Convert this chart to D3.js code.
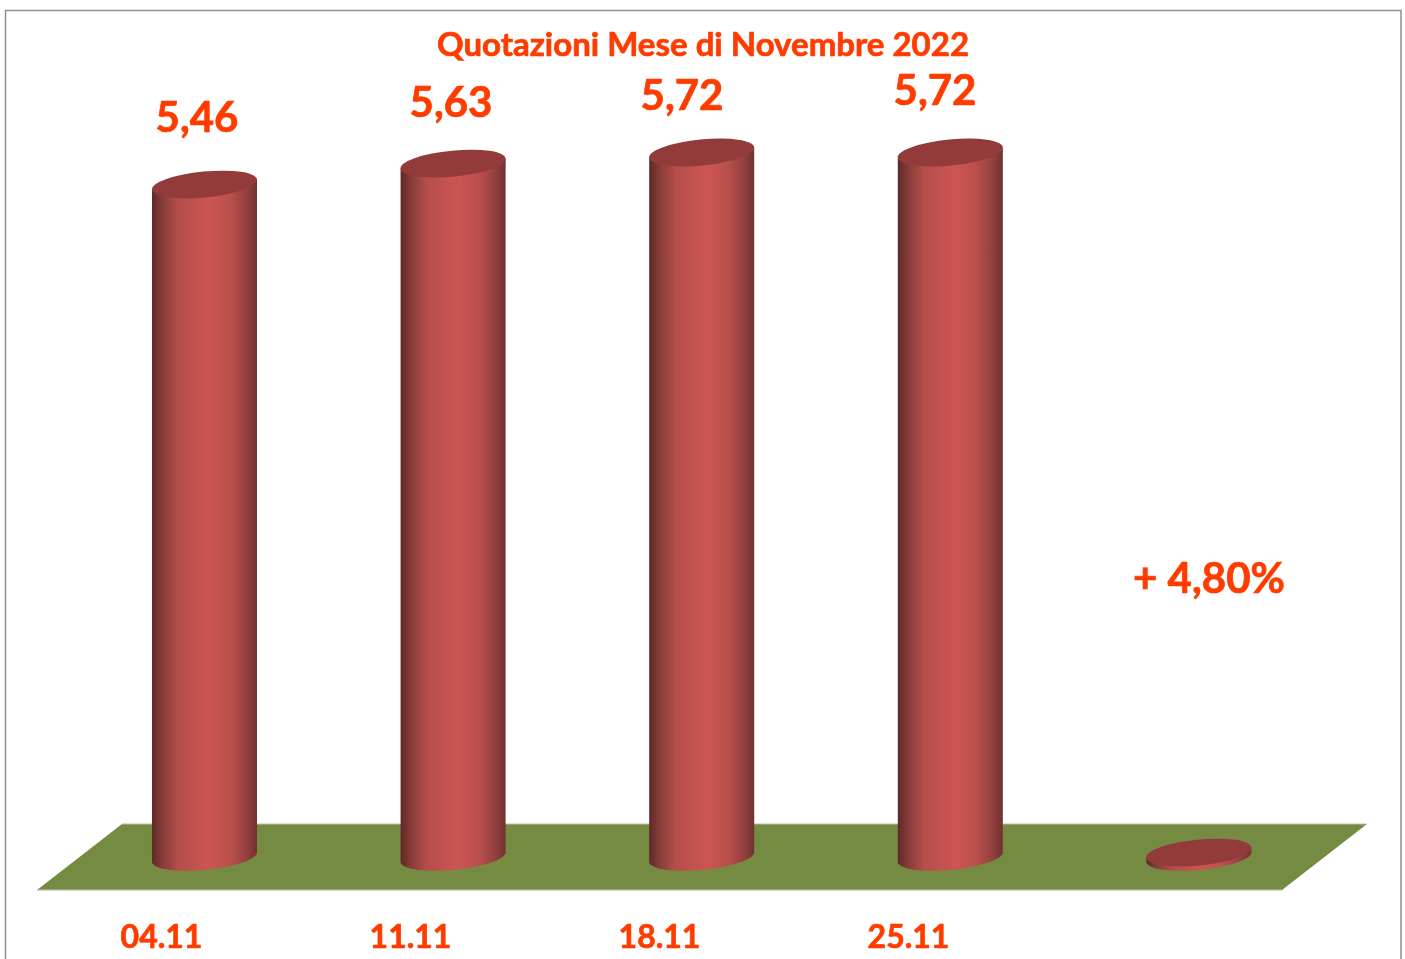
<!DOCTYPE html>
<html>
<head>
<meta charset="utf-8">
<script src="https://cdn.jsdelivr.net/npm/d3@7"></script>
<style>
  html, body { margin: 0; padding: 0; background: #fff; overflow: hidden; }
  svg { filter: blur(0.5px); }
  text { font-family: Lato, "Open Sans", sans-serif; font-weight: 700; fill: #ff3c00; stroke: #ff3c00; stroke-width: 0.7px; }
</style>
</head>
<body>
<div id="chart"></div>
<script>
// chart values
const dates = ["04.11", "11.11", "18.11", "25.11", ""]
const prices = [5.46, 5.63, 5.72, 5.72, 0.04]
const priceLabels = ["5,46", "5,63", "5,72", "5,72"]
const chartTitle = "Quotazioni Mese di Novembre 2022"
const changeLabel = "+ 4,80%"

// layout
const w = 1405, h = 959
const baseY = 857.5          // centre of the cylinder feet
const rx = 52.8, ry = 13, tilt = -5.5
const dyEdge = 4.8           // how far the ellipse's left/right ends sit off its centre
const floorBack = 824, floorFront = 890, floorSkew = 85
// hand placed labels, they don't follow the bars in the original
const labelX = [197, 451, 682, 935]
const labelY = [132, 117, 110, 105]

const svg = d3.select("#chart").append("svg")
    .attr("width", w)
    .attr("height", h)
    .style("display", "block")

// frame
svg.append("path")
    .attr("d", `M5.5,${h + 5} V10.5 H1401 V${h + 5}`)
    .attr("fill", "none")
    .attr("stroke", "#8f8f8f")
    .attr("stroke-width", 1.5)

const grad = svg.append("defs").append("linearGradient")
    .attr("id", "cyl")
    .attr("x1", 0).attr("x2", 1).attr("y1", 0).attr("y2", 0)
grad.selectAll("stop")
    .data([[0, "#5e2928"], [0.1, "#863c3a"], [0.25, "#b44e4a"], [0.55, "#cc5553"], [0.75, "#b94f4c"], [0.9, "#934040"], [1, "#703130"]])
    .enter().append("stop")
    .attr("offset", d => d[0])
    .attr("stop-color", d => d[1])

const x = d3.scaleBand()
    .domain(dates)
    .range([80.2, 1323.2])
    .paddingInner(0.5775)
    .paddingOuter(0.28875)

// same categories along the front edge of the floor, this carries the tick labels
const xFront = d3.scaleBand()
    .domain(dates)
    .range([37, 1282])

const y = d3.scaleLinear()
    .domain([0, 5.72])
    .range([baseY, 152.5])

// floor
const floorPts = [
    [xFront.range()[0], floorFront],
    [xFront.range()[1], floorFront],
    [xFront.range()[1] + floorSkew, floorBack],
    [xFront.range()[0] + floorSkew, floorBack]
]
svg.append("path")
    .attr("d", d3.line()(floorPts) + "Z")
    .attr("fill", "#768b42")
svg.append("path")
    .attr("d", d3.line()(floorPts.slice(0, 2)) + d3.line()(floorPts.slice(2)))
    .attr("fill", "none")
    .attr("stroke", "#b9bcae")
    .attr("stroke-width", 1)

// cylinders
const bars = svg.selectAll("g.bar")
    .data(dates.map((d, i) => ({date: d, price: prices[i]})))
    .enter().append("g")
    .attr("class", "bar")

bars.append("path")
    .attr("fill", "url(#cyl)")
    .attr("d", d => {
        let l = x(d.date), r = l + x.bandwidth()
        let top = y(d.price)
        return `M${l},${top + dyEdge} L${l},${baseY + dyEdge}` +
            `A${rx},${ry} ${tilt} 0 0 ${r},${baseY - dyEdge}` +
            `L${r},${top - dyEdge}Z`
    })

bars.append("ellipse")
    .attr("cx", 0).attr("cy", 0)
    .attr("rx", rx).attr("ry", ry)
    .attr("fill", "#923b3a")
    .attr("transform", d => `translate(${x(d.date) + x.bandwidth() / 2},${y(d.price)}) rotate(${tilt})`)

// axis without line or ticks
const axis = svg.append("g")
    .attr("transform", `translate(0,${floorFront})`)
    .call(d3.axisBottom(xFront).tickSize(0).tickPadding(35))
axis.select(".domain").remove()
axis.selectAll("text")
    .style("font-size", "32px")
    .style("font-family", "Lato")
axis.attr("font-size", null).attr("font-family", null)

svg.selectAll("text.price")
    .data(priceLabels)
    .enter().append("text")
    .attr("class", "price")
    .attr("x", (d, i) => labelX[i])
    .attr("y", (d, i) => labelY[i])
    .attr("text-anchor", "middle")
    .style("font-size", "42px")
    .text(d => d)

svg.append("text")
    .attr("x", 703)
    .attr("y", 56)
    .attr("text-anchor", "middle")
    .style("font-size", "33px")
    .text(chartTitle)

svg.append("text")
    .attr("x", 1209)
    .attr("y", 593)
    .attr("text-anchor", "middle")
    .style("font-size", "42px")
    .text(changeLabel)
</script>
</body>
</html>
